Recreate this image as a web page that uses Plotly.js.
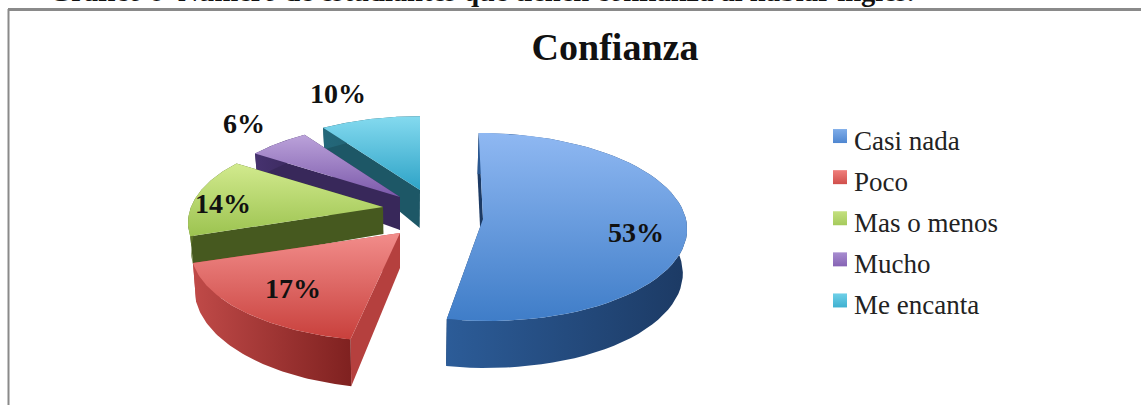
<!DOCTYPE html>
<html>
<head>
<meta charset="utf-8">
<script src="https://cdn.plot.ly/plotly-3.0.1.min.js"></script>
<style>html,body{margin:0;padding:0;background:#fff;overflow:hidden}</style>
</head>
<body>
<div id="chart" style="width:1141px;height:405px"></div>
<script>
const categories = ['Casi nada', 'Poco', 'Mas o menos', 'Mucho', 'Me encanta'];
const percents = [53, 17, 14, 6, 10];

const topColors = [['#8fb8f2', '#3f7dc8'], ['#f28d8b', '#c8403c'], ['#d2ea8e', '#9cc350'], ['#bba2da', '#7b59aa'], ['#84daef', '#2ea3c7']];
const wallColors = [['#2c5c98', '#1c3a64'], ['#c04a48', '#7f2120'], ['#5c7228', '#46591f'], ['#46326f', '#38285a'], ['#24687a', '#1d5766']];
const sideColors = ['#1c3a64', '#b5403e', '#46591f', '#38285a', '#1d5766'];
const legendTop = ['#7fade9', '#f07f7c', '#c4e07f', '#a88dd0', '#6fd0e8'];
const legendBottom = ['#4f86d0', '#d04f4b', '#a5ca5c', '#8663b4', '#3fb0d0'];

// where each exploded slice sits on the page
const apexX = [483, 400, 383, 400, 420];
const apexY = [219, 233, 207, 197, 190];
const radiusX = [203, 205, 192, 190, 193];
const radiusY = [94, 92, 90, 90, 90];
const persp = [0.085, 0.18, 0.18, 0.18, 0.18];
const shear = [0.05, -0.04, 0, 0, 0];
const depthBase = [44, 35, 27, 33, 38];
const depthSlope = [3, 12, 10, 15, 20];
const labelX = [636, 293, 223, 244, 338];
const labelY = [232, 288, 203, 123, 93];
const drawOrder = [4, 3, 2, 1, 0];

function project(i, deg, f) {
  const t = deg * Math.PI / 180;
  const u = Math.sin(t), v = -Math.cos(t);
  const s = 1 + persp[i] * v;
  const py = radiusY[i] * v * s * f;
  return {
    x: apexX[i] + radiusX[i] * u * s * f + shear[i] * py,
    y: apexY[i] + py,
    v: v * f
  };
}

function lower(i, p) {
  const d = depthBase[i] + depthSlope[i] * p.v;
  return {x: p.x - 0.015 * (p.x - 400), y: p.y + d};
}

function poly(pts, c0, c1, type) {
  return {
    x: pts.map(p => p.x).concat(pts[0].x),
    y: pts.map(p => p.y).concat(pts[0].y),
    mode: 'lines',
    line: {width: 0},
    fill: 'toself',
    fillcolor: c1,
    fillgradient: {type: type, colorscale: [[0, c0], [1, c1]]},
    hoverinfo: 'skip',
    showlegend: false
  };
}

const total = percents.reduce((a, b) => a + b, 0);
const starts = [];
let run = 0;
percents.forEach(v => { starts.push(run); run += v / total * 360; });

const data = [];
drawOrder.forEach(i => {
  const a0 = starts[i], a1 = a0 + percents[i] / total * 360;
  const arc = [];
  for (let a = a0; a <= a1 + 0.001; a += (a1 - a0) / 60) arc.push(project(i, a, 1));
  const apex = project(i, 0, 0);
  const first = arc[0], last = arc[arc.length - 1];
  // walls first, top face on top of them
  data.push(poly([apex, first, lower(i, first), lower(i, apex)], sideColors[i], sideColors[i], 'vertical'));
  data.push(poly([apex, last, lower(i, last), lower(i, apex)], sideColors[i], sideColors[i], 'vertical'));
  data.push(poly(arc.concat(arc.slice().reverse().map(p => lower(i, p))), wallColors[i][0], wallColors[i][1], 'horizontal'));
  // y axis runs downwards so the vertical scale goes bottom colour first
  data.push(poly([apex].concat(arc), topColors[i][1], topColors[i][0], 'vertical'));
});

// legend entries only
categories.forEach((c, i) => {
  data.push({
    x: [null], y: [null],
    name: c,
    legendgroup: c,
    mode: 'markers',
    marker: {symbol: 'square', size: 14, color: legendTop[i], gradient: {type: 'vertical', color: legendBottom[i]}},
    hoverinfo: 'skip'
  });
});

const annotations = percents.map((v, i) => ({
  x: labelX[i], y: labelY[i], xref: 'x', yref: 'y',
  text: '<b>' + v + '%</b>',
  showarrow: false,
  font: {family: 'Liberation Serif', size: 28, color: '#111'}
}));
annotations.push({
  x: 47, y: 9, xref: 'x', yref: 'y', xanchor: 'left', yanchor: 'bottom',
  text: '<b>Gráfico 8  Número de estudiantes que tienen confianza al hablar inglés.</b>',
  showarrow: false,
  font: {family: 'Liberation Serif', size: 28.5, color: '#111'}
});

const layout = {
  width: 1141,
  height: 405,
  margin: {l: 0, r: 0, t: 0, b: 0},
  paper_bgcolor: '#fff',
  plot_bgcolor: '#fff',
  title: {
    text: '<b>Confianza</b>',
    x: 615 / 1141, xanchor: 'center',
    y: 1 - 47 / 405, yanchor: 'middle',
    font: {family: 'Liberation Serif', size: 38, color: '#111'}
  },
  xaxis: {range: [0, 1141], visible: false, fixedrange: true},
  yaxis: {range: [405, 0], visible: false, fixedrange: true},
  legend: {
    x: 814 / 1141, xanchor: 'left',
    y: 1 - 115 / 405, yanchor: 'top',
    bgcolor: 'rgba(0,0,0,0)',
    tracegroupgap: 3,
    itemclick: false,
    font: {family: 'Liberation Serif', size: 27, color: '#222'}
  },
  shapes: [
    {type: 'line', xref: 'x', yref: 'y', x0: 8.5, x1: 8.5, y0: 9, y1: 405, line: {color: '#8a8a8a', width: 2}},
    {type: 'line', xref: 'x', yref: 'y', x0: 8, x1: 1141, y0: 9.5, y1: 9.5, line: {color: '#8a8a8a', width: 3}}
  ],
  annotations: annotations
};

Plotly.newPlot('chart', data, layout, {displayModeBar: false, staticPlot: true}).then(() => {
  // squares sit closer to their text than plotly's default
  document.querySelectorAll('.legend .legendpoints').forEach(g => {
    g.setAttribute('transform', 'translate(6,-3)');
  });
});
</script>
</body>
</html>
